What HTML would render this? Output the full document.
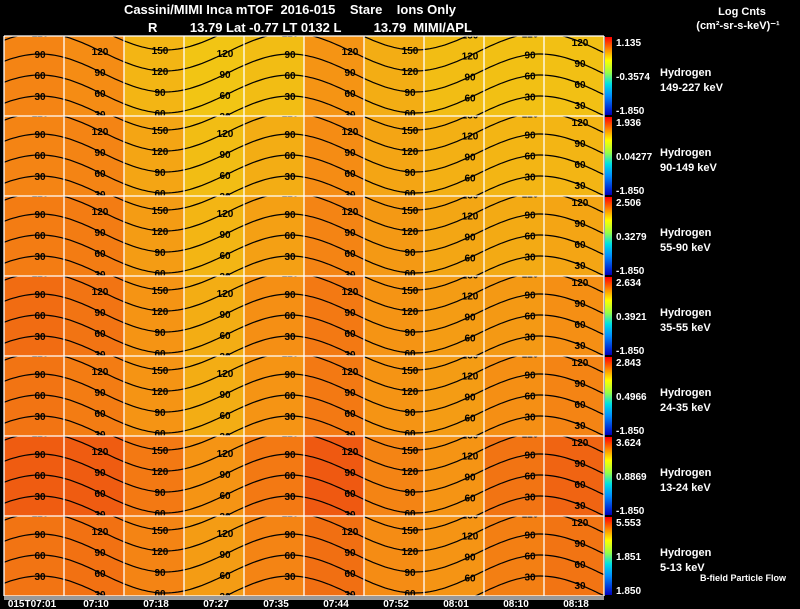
<!DOCTYPE html>
<html><head><meta charset="utf-8"><style>
body{margin:0;background:#000;width:800px;height:609px;overflow:hidden;font-family:"Liberation Sans",sans-serif;color:#fff}
svg{display:block}
text{font-family:"Liberation Sans",sans-serif}
</style></head><body>
<svg id="c" width="800" height="609">
<text x="290" y="14" font-size="13" font-weight="bold" fill="#fff" text-anchor="middle" xml:space="preserve">Cassini/MIMI Inca mTOF  2016-015    Stare    Ions Only</text>
<text x="148" y="32" font-size="13" font-weight="bold" fill="#fff" xml:space="preserve">R         13.79 Lat -0.77 LT 0132 L         13.79  MIMI/APL</text>
<text x="742" y="15" font-size="11" font-weight="bold" fill="#fff" text-anchor="middle">Log Cnts</text>
<text x="738" y="29" font-size="11" font-weight="bold" fill="#fff" text-anchor="middle">(cm²-sr-s-keV)⁻¹</text>
<defs><linearGradient id="cb" x1="0" y1="1" x2="0" y2="0">
<stop offset="0" stop-color="#0000c0"/><stop offset="0.25" stop-color="#0090ff"/><stop offset="0.4" stop-color="#00e0e0"/><stop offset="0.55" stop-color="#a0ff40"/><stop offset="0.7" stop-color="#ffff00"/><stop offset="0.85" stop-color="#ff8000"/><stop offset="1" stop-color="#ff0000"/></linearGradient></defs>
<g id="g"></g>
</svg>
<script>
const panelMax=["1.135","1.936","2.506","2.634","2.843","3.624","5.553"];
const panelMid=["-0.3574","0.04277","0.3279","0.3921","0.4966","0.8869","1.851"];
const panelMin=["-1.850","-1.850","-1.850","-1.850","-1.850","-1.850","1.850"];
const species=["149-227 keV","90-149 keV","55-90 keV","35-55 keV","24-35 keV","13-24 keV","5-13 keV"];
const timeLabels=["015T07:01","07:10","07:18","07:27","07:35","07:44","07:52","08:01","08:10","08:18"];
// intensity 0 (red) .. 1 (yellow) per panel per time column
const intensity=[
[0.45,0.50,0.75,0.85,0.80,0.55,0.70,0.80,0.82,0.82],
[0.45,0.45,0.65,0.80,0.70,0.50,0.65,0.72,0.75,0.75],
[0.40,0.40,0.60,0.75,0.62,0.45,0.58,0.66,0.68,0.65],
[0.30,0.35,0.55,0.70,0.52,0.38,0.55,0.60,0.58,0.52],
[0.35,0.40,0.55,0.70,0.55,0.38,0.55,0.60,0.52,0.45],
[0.20,0.20,0.38,0.55,0.38,0.18,0.45,0.55,0.35,0.25],
[0.35,0.33,0.45,0.60,0.45,0.32,0.50,0.55,0.42,0.35]];
const contourLevels=["30","60","90","120","150"];
const NS="http://www.w3.org/2000/svg";
const g=document.getElementById('g');
const X0=4,X1=604,Y0=36,PH=80,NC=10,CW=60,AMP=38,SP=21;
function mk(t,a,p){const e=document.createElementNS(NS,t);for(const k in a)e.setAttribute(k,a[k]);(p||g).appendChild(e);return e;}
function col(t){const a=[235,60,15],b=[245,140,20],c=[240,222,20];let r;
 if(t<0.5){const u=t/0.5;r=a.map((v,i)=>v+(b[i]-v)*u);}else{const u=(t-0.5)/0.5;r=b.map((v,i)=>v+(c[i]-v)*u);}
 return 'rgb('+r.map(Math.round).join(',')+')';}
function xs(i){return X0+i*CW;}
function ys(p){return Y0+p*PH;}
function cy(p,k,x){return ys(p)+60-k*SP+AMP*(1-Math.cos(2*Math.PI*(x-40)/250))/2;}
for(let p=0;p<7;p++){
 const clip=mk('clipPath',{id:'cl'+p});mk('rect',{x:X0,y:ys(p),width:X1-X0,height:PH},clip);
 const pg=mk('g',{'clip-path':'url(#cl'+p+')'});
 
 
 for(let i=0;i<NC;i++){
  const r=mk('rect',{x:xs(i),y:ys(p),width:CW+1,height:PH,fill:col(intensity[p][i])},pg);
  
  
 }
 for(let k=0;k<5;k++){
  let d='';
  for(let x=X0;x<=X1;x+=3){
   d+=(x==X0?'M':'L')+x+' '+cy(p,k,x).toFixed(1);
  }
  const pa=mk('path',{d:d,stroke:'#000','stroke-width':1.2,fill:'none'},pg);
  
  
  [40,100,160,225,290,350,410,470,530,580].forEach(x=>{
   const y=cy(p,k,x);
   const t=mk('text',{x:x,y:y+4,'font-size':10,'font-weight':'bold',fill:'#000','text-anchor':'middle'},pg);
   t.textContent=contourLevels[k];
   
   
  });
 }
 const cb=mk('rect',{x:605,y:ys(p)+1,width:7,height:PH-2,fill:'url(#cb)'});
 
 
 const t1=mk('text',{x:616,y:ys(p)+10,'font-size':10,'font-weight':'bold',fill:'#fff'});t1.textContent=panelMax[p];
 
 const t2=mk('text',{x:616,y:ys(p)+44,'font-size':10,'font-weight':'bold',fill:'#fff'});t2.textContent=panelMid[p];
 
 const t3=mk('text',{x:616,y:ys(p)+PH-2,'font-size':10,'font-weight':'bold',fill:'#fff'});t3.textContent=panelMin[p];
 
 const s1=mk('text',{x:660,y:ys(p)+40,'font-size':11,'font-weight':'bold',fill:'#fff'});s1.textContent='Hydrogen';
 
 const s2=mk('text',{x:660,y:ys(p)+55,'font-size':11,'font-weight':'bold',fill:'#fff'});s2.textContent=species[p];
 
}
for(let i=0;i<=NC;i++){const l=mk('line',{x1:xs(i),x2:xs(i),y1:Y0,y2:Y0+7*PH,stroke:'#fff','stroke-width':1.3});
 }
for(let p=0;p<=7;p++){const l=mk('line',{x1:X0,x2:X1,y1:ys(p),y2:ys(p),stroke:'#fff','stroke-width':1.3});
 }
const strip=mk('rect',{x:X0,y:Y0+7*PH,width:X1-X0,height:4,fill:'#999'});

timeLabels.forEach((s,i)=>{const t=mk('text',{x:i==0?32:96+(i-1)*60,y:607,'font-size':10,'font-weight':'bold',fill:'#fff','text-anchor':'middle'});t.textContent=s;
 });
const bf=mk('text',{x:700,y:581,'font-size':9,'font-weight':'bold',fill:'#fff'});bf.textContent='B-field Particle Flow';

</script>
</body></html>
